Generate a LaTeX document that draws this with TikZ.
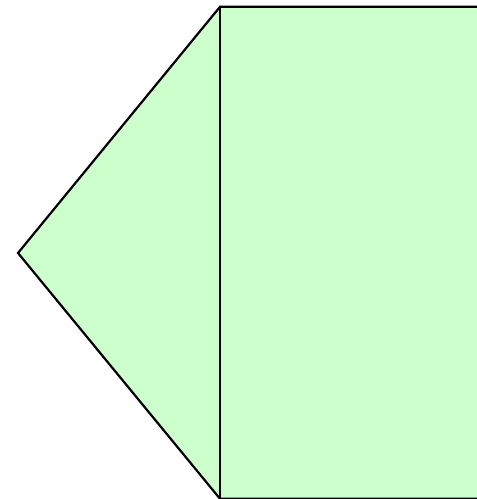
\documentclass[tikz,border=0pt]{standalone}
\begin{document}
\begin{tikzpicture}[x=1pt,y=-1pt,
  shapeline/.style={draw=black,line width=2.2pt,line join=miter}]
\definecolor{lightgreen}{HTML}{CCFFCC}
\useasboundingbox (0,0) rectangle (477,499);
\begin{scope}
\clip (0,0) rectangle (477,499);
\fill[lightgreen] (18,253) -- (220,6.8) -- (485,6.8) -- (485,498.8) -- (220,498.8) -- cycle;
\draw[shapeline] (485,6.8) -- (220,6.8) -- (18,253) -- (220,498.8) -- (485,498.8);
\draw[shapeline] (220,6.8) -- (220,498.8);
\end{scope}
\end{tikzpicture}
\end{document}
